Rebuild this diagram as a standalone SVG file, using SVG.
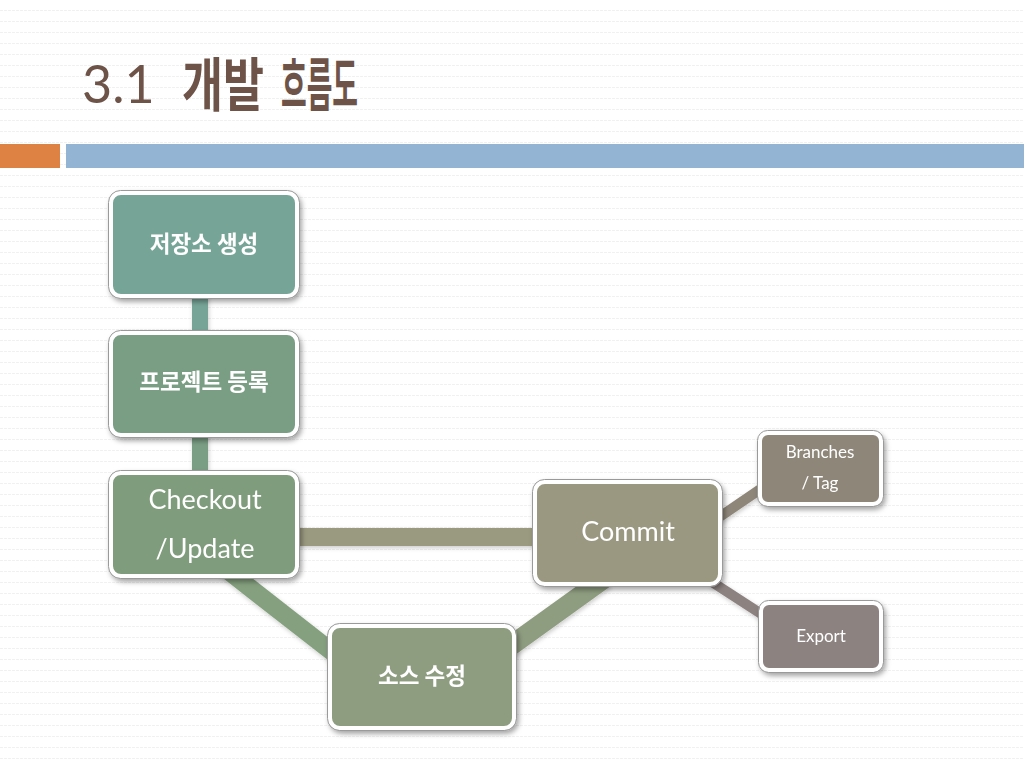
<svg xmlns="http://www.w3.org/2000/svg" width="1024" height="768" viewBox="0 0 1024 768">
<defs>
<pattern id="bg" width="12" height="11" patternUnits="userSpaceOnUse">
<line x1="0" y1="10.5" x2="12" y2="10.5" stroke="#f1f1f1" stroke-width="1" stroke-dasharray="3 1"/>
</pattern>
<filter id="sh" x="-10%" y="-10%" width="125%" height="130%">
<feDropShadow dx="2" dy="3" stdDeviation="2.5" flood-color="#000" flood-opacity="0.35"/>
</filter>
<filter id="lsh" x="-10%" y="-10%" width="125%" height="130%">
<feDropShadow dx="1" dy="2" stdDeviation="2" flood-color="#000" flood-opacity="0.2"/>
</filter>
</defs>
<style>
.node rect.b{stroke:#ffffff;stroke-width:4}
.node rect.o{fill:none;stroke:#9a9a9a;stroke-width:1}
.ko{font-family:"Noto Sans CJK KR","Noto Sans",sans-serif;font-weight:700;fill:#ffffff;text-anchor:middle}
.en{font-family:Lato,"Open Sans","Liberation Sans",sans-serif;fill:#ffffff;text-anchor:middle}
.tk{font-family:"Noto Sans CJK KR",sans-serif;font-weight:700;font-size:58px;fill:#6e5348}
.conn line{stroke-linecap:butt}
</style>
<rect width="1024" height="768" fill="#ffffff"/>
<rect width="1024" height="768" fill="url(#bg)"/>
<g id="title">
<text x="82" y="103" font-family="Lato,'Open Sans','Liberation Sans',sans-serif" font-weight="400" font-size="52" fill="#6e5348">3.1</text>
<text class="tk" x="182" y="106" textLength="82" lengthAdjust="spacingAndGlyphs">개발</text>
<text class="tk" x="281" y="106" textLength="77" lengthAdjust="spacingAndGlyphs">흐름도</text>
</g>
<g id="bars">
<rect x="0" y="144" width="60" height="24" fill="#de8244"/>
<rect x="66" y="144" width="958" height="24" fill="#93b4d2"/>
</g>
<g id="connectors" class="conn" filter="url(#lsh)">
<line x1="200" y1="295" x2="200" y2="334" stroke="#76a597" stroke-width="16"/>
<line x1="200" y1="434" x2="200" y2="474" stroke="#7a9e84" stroke-width="16"/>
<line x1="296" y1="537" x2="536" y2="537" stroke="#9a9a80" stroke-width="18"/>
<line x1="222" y1="566" x2="345" y2="662" stroke="#84a07e" stroke-width="18"/>
<line x1="505" y1="650" x2="605" y2="578" stroke="#8e9c80" stroke-width="20"/>
<line x1="715" y1="520" x2="765" y2="486" stroke="#8e8679" stroke-width="10"/>
<line x1="712" y1="582" x2="766" y2="617" stroke="#8c8280" stroke-width="10"/>
</g>
<g id="n1" class="node" filter="url(#sh)">
<rect class="b" x="111" y="193" width="186" height="103" rx="10" fill="#76a597"/>
<rect class="o" x="108.5" y="190.5" width="191" height="108" rx="12"/>
<text class="ko" x="204" y="252" font-size="22.5">저장소 생성</text>
</g>
<g id="n2" class="node" filter="url(#sh)">
<rect class="b" x="111" y="333" width="186" height="102" rx="10" fill="#7a9e84"/>
<rect class="o" x="108.5" y="330.5" width="191" height="107" rx="12"/>
<text class="ko" x="204" y="390" font-size="22.5">프로젝트 등록</text>
</g>
<g id="n3" class="node" filter="url(#sh)">
<rect class="b" x="111" y="473" width="186" height="103" rx="10" fill="#7f9c7c"/>
<rect class="o" x="108.5" y="470.5" width="191" height="108" rx="12"/>
<text class="en" x="205" y="509" font-size="27">Checkout</text>
<text class="en" x="205" y="558" font-size="27">/Update</text>
</g>
<g id="n4" class="node" filter="url(#sh)">
<rect class="b" x="330" y="626" width="184" height="102" rx="10" fill="#8e9c80"/>
<rect class="o" x="327.5" y="623.5" width="189" height="107" rx="12"/>
<text class="ko" x="422" y="684" font-size="22.5">소스 수정</text>
</g>
<g id="n5" class="node" filter="url(#sh)">
<rect class="b" x="535" y="482" width="185" height="102" rx="10" fill="#9a9880"/>
<rect class="o" x="532.5" y="479.5" width="190" height="107" rx="12"/>
<text class="en" x="628" y="541" font-size="27">Commit</text>
</g>
<g id="n6" class="node" filter="url(#sh)">
<rect class="b" x="760" y="433" width="121" height="71" rx="8" fill="#8e8679"/>
<rect class="o" x="757.5" y="430.5" width="126" height="76" rx="10"/>
<text class="en" x="820" y="458" font-size="17">Branches</text>
<text class="en" x="820" y="489" font-size="17">/ Tag</text>
</g>
<g id="n7" class="node" filter="url(#sh)">
<rect class="b" x="761" y="603" width="120" height="67" rx="8" fill="#8c8280"/>
<rect class="o" x="758.5" y="600.5" width="125" height="72" rx="10"/>
<text class="en" x="821" y="642" font-size="17">Export</text>
</g>
</svg>
